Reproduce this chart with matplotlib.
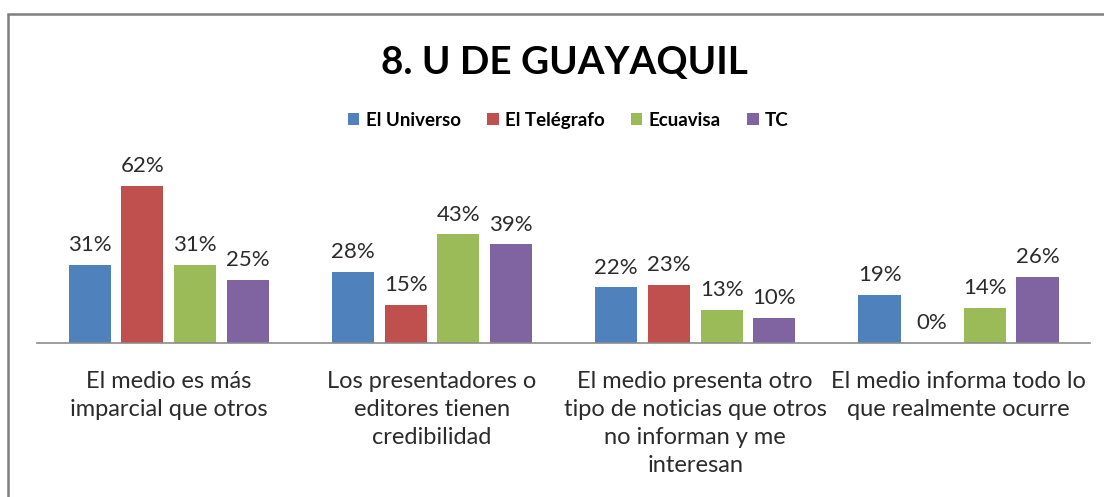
import matplotlib
matplotlib.use("Agg")
import matplotlib.pyplot as plt
import numpy as np
from matplotlib.patches import Rectangle

plt.rcParams['font.family'] = ['Lato', 'DejaVu Sans']

categorias = ["El medio es más\nimparcial que otros",
              "Los presentadores o\neditores tienen\ncredibilidad",
              "El medio presenta otro\ntipo de noticias que otros\nno informan y me\ninteresan",
              "El medio informa todo lo\nque realmente ocurre"]
medios = ["El Universo", "El Telégrafo", "Ecuavisa", "TC"]
el_universo = [0.31, 0.28, 0.22, 0.19]
el_telegrafo = [0.62, 0.15, 0.23, 0.00]
ecuavisa = [0.31, 0.43, 0.13, 0.14]
tc = [0.25, 0.39, 0.10, 0.26]
colores = ['#4F81BD', '#C0504D', '#9BBB59', '#8064A2']

series = [el_universo, el_telegrafo, ecuavisa, tc]

fig = plt.figure(figsize=(11.04, 4.97), dpi=100)
ax = fig.add_axes([0.0335, 0.31, 0.954, 0.356])

x = np.arange(len(categorias))
ancho = 0.16
paso = 0.2
for i, (vals, col, nom) in enumerate(zip(series, colores, medios)):
    pos = x + (i - 1.5) * paso
    ax.bar(pos, vals, ancho, color=col, label=nom, zorder=2)
    for xp, v in zip(pos, vals):
        ax.annotate(f"{v:.0%}", (xp, v), xytext=(0, 7), textcoords='offset points',
                    ha='center', va='bottom', fontsize=16, color='#2B2B2B')

ax.set_xlim(-0.5, len(categorias) - 0.5)
ax.set_ylim(0, 0.70)
ax.set_yticks([])
ax.set_xticks(x)
ax.set_xticklabels(categorias, fontsize=17, color='#2B2B2B', linespacing=1.42)
ax.tick_params(axis='x', length=0, pad=20)
for s in ['top', 'left', 'right']:
    ax.spines[s].set_visible(False)
ax.spines['bottom'].set_color('#8C8C8C')
ax.spines['bottom'].set_linewidth(1.2)

fig.text(0.511, 0.874, "8. U DE GUAYAQUIL", ha='center', va='center',
         fontsize=27.8, fontweight='bold', color='black')

fig.legend(loc='center', bbox_to_anchor=(0.515, 0.758), ncol=4, frameon=False,
           handlelength=0.6, handleheight=0.6, handletextpad=0.35, columnspacing=1.4,
           prop={'size': 13.5, 'weight': 'bold'})

fig.patches.append(Rectangle((0.0072, -0.05), 1.05, 0.972 + 0.05,
                             transform=fig.transFigure, fill=False,
                             edgecolor='#7F7F7F', linewidth=1.8))

fig.savefig("out.png", dpi=100)
